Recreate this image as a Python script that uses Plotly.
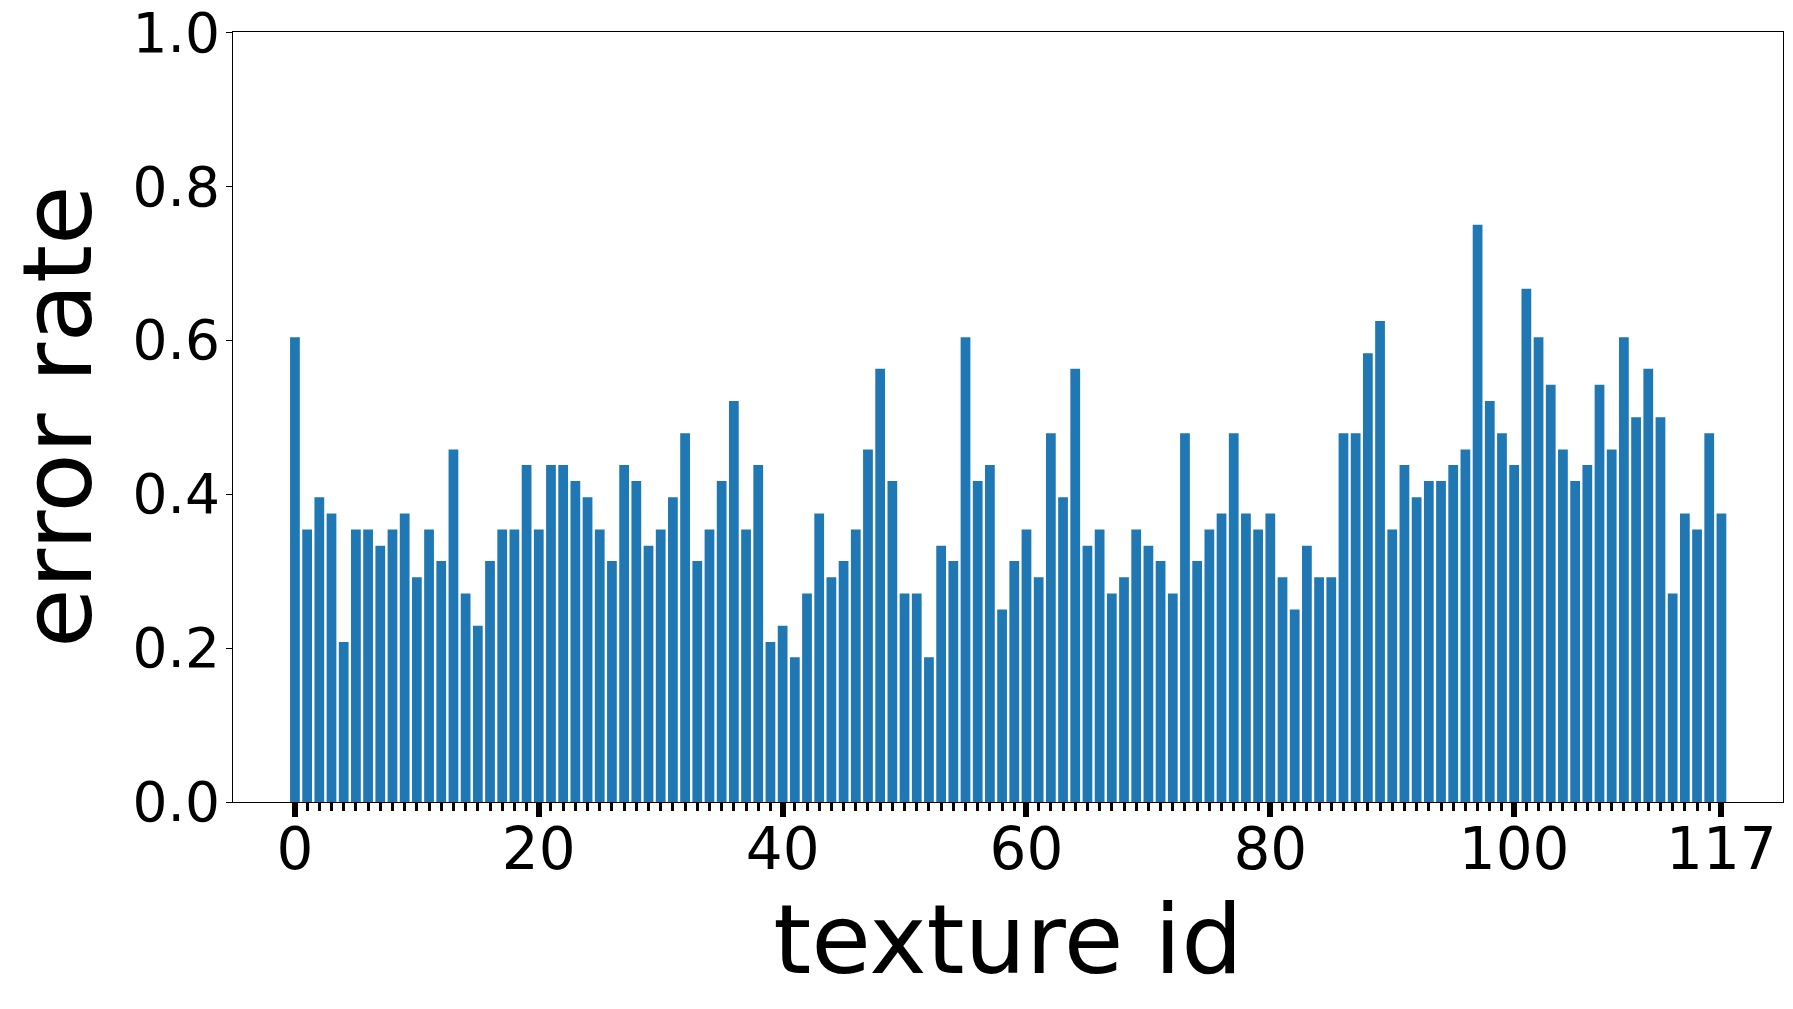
import plotly.graph_objects as go

# error rate per texture id
texture_ids = list(range(118))
error_rate = [
    0.604, 0.354, 0.396, 0.375, 0.208, 0.354, 0.354, 0.333, 0.354, 0.375,
    0.292, 0.354, 0.313, 0.458, 0.271, 0.229, 0.313, 0.354, 0.354, 0.438,
    0.354, 0.438, 0.438, 0.417, 0.396, 0.354, 0.313, 0.438, 0.417, 0.333,
    0.354, 0.396, 0.479, 0.313, 0.354, 0.417, 0.521, 0.354, 0.438, 0.208,
    0.229, 0.188, 0.271, 0.375, 0.292, 0.313, 0.354, 0.458, 0.563, 0.417,
    0.271, 0.271, 0.188, 0.333, 0.313, 0.604, 0.417, 0.438, 0.250, 0.313,
    0.354, 0.292, 0.479, 0.396, 0.563, 0.333, 0.354, 0.271, 0.292, 0.354,
    0.333, 0.313, 0.271, 0.479, 0.313, 0.354, 0.375, 0.479, 0.375, 0.354,
    0.375, 0.292, 0.250, 0.333, 0.292, 0.292, 0.479, 0.479, 0.583, 0.625,
    0.354, 0.438, 0.396, 0.417, 0.417, 0.438, 0.458, 0.750, 0.521, 0.479,
    0.438, 0.667, 0.604, 0.542, 0.458, 0.417, 0.438, 0.542, 0.458, 0.604,
    0.500, 0.563, 0.500, 0.271, 0.375, 0.354, 0.479, 0.375,
]

x_tickvals = [0, 10, 20, 30, 40, 50, 60, 70, 80, 90, 100, 110, 117]
x_ticktext = ["0", "", "20", "", "40", "", "60", "", "80", "", "100", "", "117"]
y_tickvals = [0.0, 0.2, 0.4, 0.6, 0.8, 1.0]
y_ticktext = ["0.0", "0.2", "0.4", "0.6", "0.8", "1.0"]

fig = go.Figure(go.Bar(x=texture_ids, y=error_rate, marker_color="#1f77b4",
                       marker_line_width=0))

font = "DejaVu Sans"
# the page body has an 8px default margin, so the figure is 8px smaller
fig.update_layout(
    width=1785, height=1001,
    margin=dict(l=225, r=10, t=24, b=207),
    plot_bgcolor="white", paper_bgcolor="white",
    bargap=0.2, showlegend=False,
    font=dict(family=font, color="black"),
)
fig.update_xaxes(
    range=[-5.08, 122.05], automargin=False,
    tickmode="array", tickvals=x_tickvals, ticktext=x_ticktext,
    ticks="outside", ticklen=14, tickwidth=6, tickcolor="black",
    tickfont=dict(size=58, family=font), ticklabeloverflow="allow",
    ticklabelstandoff=-18,
    minor=dict(ticks="outside", ticklen=8, tickwidth=3, tickcolor="black",
               tickmode="array", tickvals=texture_ids, showgrid=False),
    showline=True, linecolor="black", linewidth=1, mirror=True,
    showgrid=False, zeroline=False,
    title=dict(text="texture id", font=dict(size=97, family=font), standoff=20),
)
fig.update_yaxes(
    range=[0, 1.0005], automargin=False,
    tickmode="array", tickvals=y_tickvals, ticktext=y_ticktext,
    ticks="outside", ticklen=6, tickwidth=1, tickcolor="black",
    tickfont=dict(size=55, family=font), ticklabeloverflow="allow",
    ticklabelstandoff=-5,
    showline=True, linecolor="black", linewidth=1, mirror=True,
    showgrid=False, zeroline=False,
)

# y axis title as an annotation so it can sit closer to the page edge
fig.add_annotation(
    text="error rate", textangle=-90, showarrow=False,
    xref="paper", yref="paper", x=-0.1135, y=0.5,
    xanchor="center", yanchor="middle",
    font=dict(size=97, family=font, color="black"),
)

fig.write_html("out.html")
